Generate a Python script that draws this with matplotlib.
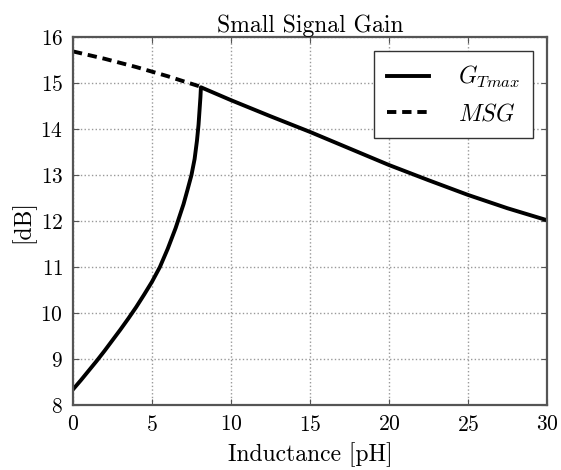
import numpy as np
import matplotlib
matplotlib.use('Agg')
import matplotlib.pyplot as plt

plt.rcParams['font.family'] = ['cmr10', 'DejaVu Serif']
plt.rcParams['mathtext.fontset'] = 'cm'
plt.rcParams['axes.formatter.use_mathtext'] = True

# data
gt_x = [0, 0.5, 1, 1.5, 2, 2.5, 3, 3.5, 4, 4.5, 5, 5.5, 6, 6.5, 7, 7.25, 7.5,
        7.7, 7.85, 7.95, 8.02, 8.07, 8.1,
        10, 12.5, 15, 17.5, 20, 22.5, 25, 27.5, 30]
gt_y = [8.34, 8.54, 8.75, 8.96, 9.18, 9.41, 9.64, 9.88, 10.13, 10.4, 10.68,
        11.0, 11.4, 11.85, 12.37, 12.68, 13.0,
        13.35, 13.75, 14.1, 14.45, 14.7, 14.91,
        14.63, 14.28, 13.94, 13.58, 13.22, 12.89, 12.57, 12.28, 12.02]

msg_x = [0, 1, 2, 3, 4, 5, 6, 7, 8.1]
msg_y = [15.69, 15.61, 15.53, 15.44, 15.35, 15.25, 15.15, 15.04, 14.92]

fig = plt.figure(figsize=(5.61, 4.70), dpi=100)
ax = fig.add_axes([0.130, 0.138, 0.845, 0.783])

ax.plot(gt_x, gt_y, color='black', lw=2.8, label=r'$G_{Tmax}$')
ax.plot(msg_x, msg_y, color='black', lw=2.8, ls=(0, (2.4, 1.5)), label=r'$MSG$')

ax.set_xlim(0, 30)
ax.set_ylim(8, 16)
ax.set_xticks([0, 5, 10, 15, 20, 25, 30])
ax.set_yticks(range(8, 17))
ax.grid(True, ls=':', color='#999999', lw=1.0)
ax.tick_params(direction='in', top=True, right=True, length=4, labelsize=15.5,
               color='#555555', pad=7)
for s in ax.spines.values():
    s.set_color('#555555')
    s.set_linewidth(1.6)

ax.set_title('Small Signal Gain', fontsize=17, pad=4)
ax.set_xlabel('Inductance [pH]', fontsize=17, labelpad=5)
ax.set_ylabel('[dB]', fontsize=17, labelpad=4)

leg = ax.legend(loc='upper right', fontsize=17, fancybox=False, framealpha=1,
                edgecolor='#333333', handlelength=1.8, handletextpad=1.2,
                labelspacing=0.55, borderpad=0.55, borderaxespad=0.6)
leg.get_frame().set_linewidth(1.0)

fig.savefig('out.png', dpi=100)
